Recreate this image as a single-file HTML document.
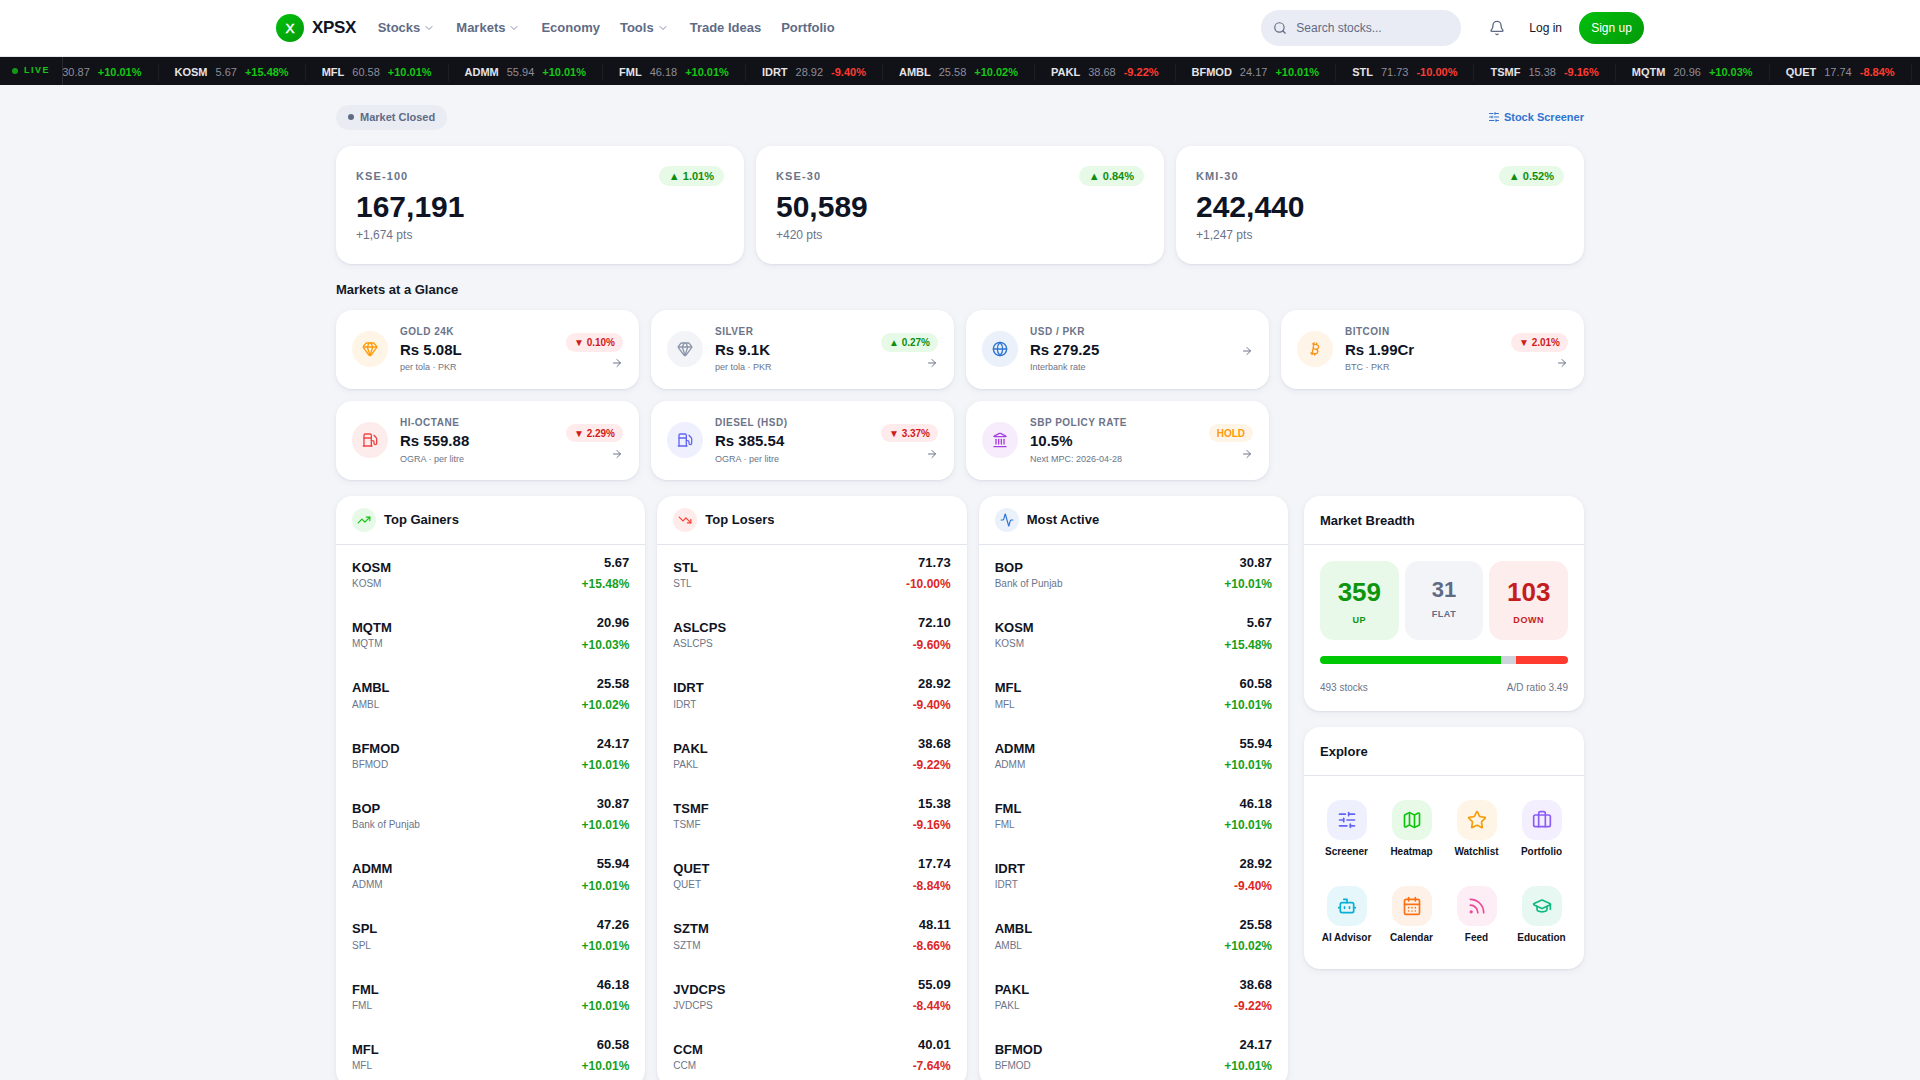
<!DOCTYPE html>
<html lang="en"><head><meta charset="utf-8"><title>XPSX</title>
<style>
*{box-sizing:border-box;margin:0;padding:0}
html,body{width:1920px;height:1080px;overflow:hidden}
body{font-family:"Liberation Sans",sans-serif;background:#f4f5f9;color:#0f1424;-webkit-font-smoothing:antialiased}
a{text-decoration:none;color:inherit}
svg{display:block;flex:none}
.hdr{height:57px;background:#fff;border-bottom:1px solid #e6e8ef}
.hdr-in{width:1368px;margin:0 auto;height:56px;display:flex;align-items:center}
.logo{display:flex;align-items:center;gap:8px}
.logo-c{width:28px;height:28px;border-radius:50%;background:linear-gradient(135deg,#02c20c,#04980a);color:#fff;font-weight:400;font-size:13.5px;-webkit-text-stroke:.45px #fff;display:flex;align-items:center;justify-content:center}
.logo-t{font-size:17px;font-weight:700;letter-spacing:-0.3px;color:#0f1424}
.navs{display:flex;margin-left:11.5px}
.nav{display:flex;align-items:center;font-size:13px;font-weight:700;color:#5f6b85;padding:0 10px;height:32px;position:relative;top:-1px}
.chev{margin-left:3px;margin-right:1px;opacity:.75;position:relative;top:1px}
.hdr-r{margin-left:auto;display:flex;align-items:center}
.search{width:200px;height:36px;border-radius:18px;background:#e9ecf4;display:flex;align-items:center;padding-left:12px;color:#5f6b85;font-size:12px;gap:9px}
.bell{margin-left:28px;color:#5f6b85}
.login{margin-left:24px;font-size:12px;color:#111827;position:relative;top:0px}
.signup{margin-left:17px;width:65px;height:32px;border-radius:16px;background:linear-gradient(135deg,#02c00c,#04990a);color:#fff;font-size:12px;display:flex;align-items:center;justify-content:center;padding-bottom:1px}
.ticker{height:28px;background:#111118;position:relative;overflow:hidden}
.live{position:absolute;left:0;top:0;height:28px;width:63px;background:#111118;border-right:1px solid #2a2a33;z-index:2;display:flex;align-items:center;padding-left:12px;font-size:9px;font-weight:700;letter-spacing:.17em;color:#19c519;gap:6px;padding-bottom:2px}
.ld{width:6px;height:6px;border-radius:50%;background:#159a15;position:relative;top:1px}
.track{position:absolute;left:14.4px;top:0;height:28px;display:flex;white-space:nowrap}
.ti{display:flex;align-items:center;gap:8px;padding:0 16px;border-right:1px solid #1e1e26;height:17px;margin-top:7px;font-size:11px;padding-bottom:2px}
.ti b{color:#e4e4e7;font-weight:700}
.ti i{font-style:normal;color:#8e8e98}
.ti em{font-style:normal;font-weight:700}
.ti .up{color:#14c814}.ti .dn{color:#ff3b30}
.wrap{width:1248px;margin:0 auto}
.topbar{display:flex;justify-content:space-between;align-items:center;height:25px;margin-top:20px}
.mc{height:25px;border-radius:13px;background:#eaecf4;padding:0 12px;display:flex;align-items:center;gap:6px;font-size:11px;font-weight:700;color:#5f6b85;padding-bottom:1px}
.mcd{width:6px;height:6px;border-radius:50%;background:#5f6b85}
.ss{display:flex;align-items:center;gap:4px;font-size:11px;font-weight:700;color:#2f74d0;position:relative;top:-1px}
.card{background:#fff;border-radius:16px;box-shadow:0 1px 2px rgba(20,30,70,.07),0 2px 8px rgba(20,30,70,.05)}
.idx{display:grid;grid-template-columns:repeat(3,1fr);gap:12px;margin-top:16px}
.ic{height:118px;padding:20px}
.ic-h{display:flex;justify-content:space-between;align-items:center;height:20px}
.ic-l{font-size:11px;font-weight:700;letter-spacing:.1em;color:#6b7489}
.pill{display:inline-flex;align-items:center;height:20px;border-radius:10px;padding:0 10px;font-size:11px;font-weight:700;white-space:nowrap}
.pu{background:#e7f9e7;color:#0d8f0d}
.pd{background:#ffebeb;color:#d11a1a}
.ph{background:#fff5e6;color:#ff9a08}
.ic-v{font-size:30px;font-weight:700;line-height:36px;margin-top:3px;color:#0f1424}
.ic-s{font-size:12px;color:#6b7489;line-height:16px;margin-top:2px}
.sec{font-size:13px;font-weight:700;color:#111827;margin-top:18px;line-height:16px}
.gl-grid{display:grid;grid-template-columns:repeat(4,1fr);gap:11.7px 12px;margin-top:12px}
.gc{height:79px;padding:0 16px;display:flex;align-items:flex-start}
.gi{margin-top:21px;width:36px;height:36px;border-radius:50%;display:flex;align-items:center;justify-content:center;flex:none}
.gt{margin-left:12px;flex:1;margin-top:15px}
.gl{font-size:10px;font-weight:700;letter-spacing:.05em;color:#6b7489;line-height:14px}
.gv{font-size:15px;font-weight:700;line-height:20px;margin-top:1px;color:#0f1424}
.gs{font-size:9px;color:#6b7489;line-height:12px;margin-top:1px}
.r2 .gs{margin-top:2px}
.gr{display:flex;flex-direction:column;align-items:flex-end;gap:5.5px;margin-top:23px}
.gr.nb{margin-top:34.7px}
.gr .pill{height:18.8px;padding:0 8px;font-size:10px}
.ga{color:#6b7489}
.cols{display:flex;gap:16px;margin-top:16.3px}
.main{width:952px}
.lists{display:grid;grid-template-columns:repeat(3,1fr);gap:12px}
.lc{overflow:hidden}
.lh{height:49px;border-bottom:1px solid #e3e5ee;display:flex;align-items:center;padding:0 16px;gap:8px}
.li{width:24px;height:24px;border-radius:50%;display:flex;align-items:center;justify-content:center}
.lt{font-size:13px;font-weight:700}
.row{height:60.25px;padding:0 16px;display:flex;justify-content:space-between;align-items:center}
.rn{font-size:13px;font-weight:700;line-height:17px;position:relative;top:-.25px}
.rs{font-size:10px;color:#6b7489;line-height:14px;margin-top:1px}
.rr{text-align:right;position:relative;top:-1.75px}
.rp{font-size:13px;font-weight:700;line-height:17px}
.rc{font-size:12px;font-weight:700;line-height:16px;margin-top:5.25px}
.up{color:#15a01a}.dn{color:#dc2626}
.side{width:280px}
.sc{margin-bottom:16px}
.sh{height:49px;border-bottom:1px solid #e3e5ee;padding:0 16px;display:flex;align-items:center;font-size:13px;font-weight:700;padding-top:2px}
.sb{padding:16px 16px 17px}
.bx3{display:grid;grid-template-columns:repeat(3,1fr);gap:6px}
.bx{aspect-ratio:1;border-radius:14px;display:flex;flex-direction:column;align-items:center;justify-content:center}
.bx b{font-size:26px;line-height:30px;position:relative;top:1px}
.bx span{font-size:9px;font-weight:700;letter-spacing:.06em;margin-top:8px;position:relative;top:1px}
.bu{background:#e9f9e9;color:#0d960d}
.bf{background:#f3f4f8;color:#5f6b85}
.bf b{font-size:22px;line-height:26px;top:-1px}
.bf span{top:-3px}
.bd{background:#feeded;color:#c41d1d}
.bar{height:8px;border-radius:4px;overflow:hidden;display:flex;margin-top:16px}
.b1{width:72.8%;background:#00c805}.b2{width:6.3%;background:#cfd3dc}.b3{flex:1;background:#ff3b30}
.bft{display:flex;justify-content:space-between;font-size:10px;color:#6b7489;margin-top:18px;line-height:12px}
.eg{display:grid;grid-template-columns:repeat(4,1fr);padding:24px 12px 0;gap:0 4px;height:193px}
.ei{display:flex;flex-direction:column;align-items:center;height:86px}
.eb{width:40px;height:40px;border-radius:14px;display:flex;align-items:center;justify-content:center}
.el{font-size:10px;font-weight:700;margin-top:6px;line-height:12px;white-space:nowrap}

</style></head>
<body><header class="hdr"><div class="hdr-in">
<a class="logo"><span class="logo-c">X</span><span class="logo-t">XPSX</span></a>
<nav class="navs"><a class="nav">Stocks<span class="chev"><svg width="12" height="12" viewBox="0 0 24 24" fill="none" stroke="currentColor" stroke-width="2" stroke-linecap="round" stroke-linejoin="round" ><path d="m6 9 6 6 6-6"/></svg></span></a><a class="nav">Markets<span class="chev"><svg width="12" height="12" viewBox="0 0 24 24" fill="none" stroke="currentColor" stroke-width="2" stroke-linecap="round" stroke-linejoin="round" ><path d="m6 9 6 6 6-6"/></svg></span></a><a class="nav">Economy</a><a class="nav">Tools<span class="chev"><svg width="12" height="12" viewBox="0 0 24 24" fill="none" stroke="currentColor" stroke-width="2" stroke-linecap="round" stroke-linejoin="round" ><path d="m6 9 6 6 6-6"/></svg></span></a><a class="nav">Trade Ideas</a><a class="nav">Portfolio</a></nav>
<div class="hdr-r"><div class="search"><svg width="14" height="14" viewBox="0 0 24 24" fill="none" stroke="currentColor" stroke-width="2" stroke-linecap="round" stroke-linejoin="round" ><path d="m21 21-4.34-4.34"/><circle cx="11" cy="11" r="8"/></svg><span>Search stocks...</span></div>
<span class="bell"><svg width="16" height="16" viewBox="0 0 24 24" fill="none" stroke="currentColor" stroke-width="2" stroke-linecap="round" stroke-linejoin="round" ><path d="M10.268 21a2 2 0 0 0 3.464 0"/><path d="M3.262 15.326A1 1 0 0 0 4 17h16a1 1 0 0 0 .74-1.673C19.41 13.956 18 12.499 18 8A6 6 0 0 0 6 8c0 4.499-1.411 5.956-2.738 7.326"/></svg></span><a class="login">Log in</a><a class="signup">Sign up</a></div>
</div></header><div class="ticker"><div class="live"><span class="ld"></span>LIVE</div><div class="track"><span class="ti"><b>BOP</b><i>30.87</i><em class="up">+10.01%</em></span><span class="ti"><b>KOSM</b><i>5.67</i><em class="up">+15.48%</em></span><span class="ti"><b>MFL</b><i>60.58</i><em class="up">+10.01%</em></span><span class="ti"><b>ADMM</b><i>55.94</i><em class="up">+10.01%</em></span><span class="ti"><b>FML</b><i>46.18</i><em class="up">+10.01%</em></span><span class="ti"><b>IDRT</b><i>28.92</i><em class="dn">-9.40%</em></span><span class="ti"><b>AMBL</b><i>25.58</i><em class="up">+10.02%</em></span><span class="ti"><b>PAKL</b><i>38.68</i><em class="dn">-9.22%</em></span><span class="ti"><b>BFMOD</b><i>24.17</i><em class="up">+10.01%</em></span><span class="ti"><b>STL</b><i>71.73</i><em class="dn">-10.00%</em></span><span class="ti"><b>TSMF</b><i>15.38</i><em class="dn">-9.16%</em></span><span class="ti"><b>MQTM</b><i>20.96</i><em class="up">+10.03%</em></span><span class="ti"><b>QUET</b><i>17.74</i><em class="dn">-8.84%</em></span><span class="ti"><b>SPL</b><i>47.26</i><em class="up">+10.01%</em></span></div></div><main class="wrap"><div class="topbar"><span class="mc"><span class="mcd"></span>Market Closed</span><a class="ss"><svg width="12" height="12" viewBox="0 0 24 24" fill="none" stroke="currentColor" stroke-width="2" stroke-linecap="round" stroke-linejoin="round" ><path d="M10 5H3"/><path d="M12 19H3"/><path d="M14 3v4"/><path d="M16 17v4"/><path d="M21 12h-9"/><path d="M21 19h-5"/><path d="M21 5h-7"/><path d="M8 10v4"/><path d="M8 12H3"/></svg>Stock Screener</a></div><div class="idx"><div class="card ic"><div class="ic-h"><span class="ic-l">KSE-100</span><span class="pill pu">▲ 1.01%</span></div><div class="ic-v">167,191</div><div class="ic-s">+1,674 pts</div></div><div class="card ic"><div class="ic-h"><span class="ic-l">KSE-30</span><span class="pill pu">▲ 0.84%</span></div><div class="ic-v">50,589</div><div class="ic-s">+420 pts</div></div><div class="card ic"><div class="ic-h"><span class="ic-l">KMI-30</span><span class="pill pu">▲ 0.52%</span></div><div class="ic-v">242,440</div><div class="ic-s">+1,247 pts</div></div></div><h2 class="sec">Markets at a Glance</h2><div class="gl-grid"><div class="card gc"><span class="gi" style="color:#ff9a08;background:#fff5e6"><svg width="16" height="16" viewBox="0 0 24 24" fill="none" stroke="currentColor" stroke-width="2" stroke-linecap="round" stroke-linejoin="round" ><path d="M10.5 3 8 9l4 13 4-13-2.5-6"/><path d="M17 3a2 2 0 0 1 1.6.8l3 4a2 2 0 0 1 .013 2.382l-7.99 10.986a2 2 0 0 1-3.247 0l-7.99-10.986A2 2 0 0 1 2.4 7.8l2.998-3.997A2 2 0 0 1 7 3z"/><path d="M2 9h20"/></svg></span><div class="gt"><div class="gl">GOLD 24K</div><div class="gv">Rs 5.08L</div><div class="gs">per tola · PKR</div></div><div class="gr"><span class="pill pd">▼ 0.10%</span><span class="ga"><svg width="12" height="12" viewBox="0 0 24 24" fill="none" stroke="currentColor" stroke-width="2" stroke-linecap="round" stroke-linejoin="round" ><path d="M5 12h14"/><path d="m12 5 7 7-7 7"/></svg></span></div></div><div class="card gc"><span class="gi" style="color:#8b95ab;background:#f3f4f7"><svg width="16" height="16" viewBox="0 0 24 24" fill="none" stroke="currentColor" stroke-width="2" stroke-linecap="round" stroke-linejoin="round" ><path d="M10.5 3 8 9l4 13 4-13-2.5-6"/><path d="M17 3a2 2 0 0 1 1.6.8l3 4a2 2 0 0 1 .013 2.382l-7.99 10.986a2 2 0 0 1-3.247 0l-7.99-10.986A2 2 0 0 1 2.4 7.8l2.998-3.997A2 2 0 0 1 7 3z"/><path d="M2 9h20"/></svg></span><div class="gt"><div class="gl">SILVER</div><div class="gv">Rs 9.1K</div><div class="gs">per tola · PKR</div></div><div class="gr"><span class="pill pu">▲ 0.27%</span><span class="ga"><svg width="12" height="12" viewBox="0 0 24 24" fill="none" stroke="currentColor" stroke-width="2" stroke-linecap="round" stroke-linejoin="round" ><path d="M5 12h14"/><path d="m12 5 7 7-7 7"/></svg></span></div></div><div class="card gc"><span class="gi" style="color:#2f74d0;background:#eaf1fa"><svg width="16" height="16" viewBox="0 0 24 24" fill="none" stroke="currentColor" stroke-width="2" stroke-linecap="round" stroke-linejoin="round" ><circle cx="12" cy="12" r="10"/><path d="M12 2a14.5 14.5 0 0 0 0 20 14.5 14.5 0 0 0 0-20"/><path d="M2 12h20"/></svg></span><div class="gt"><div class="gl">USD / PKR</div><div class="gv">Rs 279.25</div><div class="gs">Interbank rate</div></div><div class="gr nb"><span class="ga"><svg width="12" height="12" viewBox="0 0 24 24" fill="none" stroke="currentColor" stroke-width="2" stroke-linecap="round" stroke-linejoin="round" ><path d="M5 12h14"/><path d="m12 5 7 7-7 7"/></svg></span></div></div><div class="card gc"><span class="gi" style="color:#f7931a;background:#fef4e8"><svg width="16" height="16" viewBox="0 0 24 24" fill="none" stroke="currentColor" stroke-width="2" stroke-linecap="round" stroke-linejoin="round" ><path d="M11.767 19.089c4.924.868 6.14-6.025 1.216-6.894m-1.216 6.894L5.86 18.047m5.908 1.042-.347 1.97m1.563-8.864c4.924.869 6.14-6.025 1.215-6.893m-1.215 6.893-3.94-.694m5.155-6.2L8.29 4.26m5.908 1.042.348-1.97M7.48 20.364l3.126-17.727"/></svg></span><div class="gt"><div class="gl">BITCOIN</div><div class="gv">Rs 1.99Cr</div><div class="gs">BTC · PKR</div></div><div class="gr"><span class="pill pd">▼ 2.01%</span><span class="ga"><svg width="12" height="12" viewBox="0 0 24 24" fill="none" stroke="currentColor" stroke-width="2" stroke-linecap="round" stroke-linejoin="round" ><path d="M5 12h14"/><path d="m12 5 7 7-7 7"/></svg></span></div></div><div class="card gc r2"><span class="gi" style="color:#ef4444;background:#fdecec"><svg width="16" height="16" viewBox="0 0 24 24" fill="none" stroke="currentColor" stroke-width="2" stroke-linecap="round" stroke-linejoin="round" ><path d="M14 13h2a2 2 0 0 1 2 2v2a2 2 0 0 0 4 0v-6.998a2 2 0 0 0-.59-1.42L18 5"/><path d="M14 21V5a2 2 0 0 0-2-2H5a2 2 0 0 0-2 2v16"/><path d="M2 21h13"/><path d="M3 9h11"/></svg></span><div class="gt"><div class="gl">HI-OCTANE</div><div class="gv">Rs 559.88</div><div class="gs">OGRA · per litre</div></div><div class="gr"><span class="pill pd">▼ 2.29%</span><span class="ga"><svg width="12" height="12" viewBox="0 0 24 24" fill="none" stroke="currentColor" stroke-width="2" stroke-linecap="round" stroke-linejoin="round" ><path d="M5 12h14"/><path d="m12 5 7 7-7 7"/></svg></span></div></div><div class="card gc r2"><span class="gi" style="color:#6366f1;background:#eff0fe"><svg width="16" height="16" viewBox="0 0 24 24" fill="none" stroke="currentColor" stroke-width="2" stroke-linecap="round" stroke-linejoin="round" ><path d="M14 13h2a2 2 0 0 1 2 2v2a2 2 0 0 0 4 0v-6.998a2 2 0 0 0-.59-1.42L18 5"/><path d="M14 21V5a2 2 0 0 0-2-2H5a2 2 0 0 0-2 2v16"/><path d="M2 21h13"/><path d="M3 9h11"/></svg></span><div class="gt"><div class="gl">DIESEL (HSD)</div><div class="gv">Rs 385.54</div><div class="gs">OGRA · per litre</div></div><div class="gr"><span class="pill pd">▼ 3.37%</span><span class="ga"><svg width="12" height="12" viewBox="0 0 24 24" fill="none" stroke="currentColor" stroke-width="2" stroke-linecap="round" stroke-linejoin="round" ><path d="M5 12h14"/><path d="m12 5 7 7-7 7"/></svg></span></div></div><div class="card gc r2"><span class="gi" style="color:#a63fe0;background:#f6ecfc"><svg width="16" height="16" viewBox="0 0 24 24" fill="none" stroke="currentColor" stroke-width="2" stroke-linecap="round" stroke-linejoin="round" ><path d="M10 18v-7"/><path d="M11.12 2.198a2 2 0 0 1 1.76.006l7.866 3.847c.476.233.31.949-.22.949H3.474c-.53 0-.695-.716-.22-.949z"/><path d="M14 18v-7"/><path d="M18 18v-7"/><path d="M3 22h18"/><path d="M6 18v-7"/></svg></span><div class="gt"><div class="gl">SBP POLICY RATE</div><div class="gv">10.5%</div><div class="gs">Next MPC: 2026-04-28</div></div><div class="gr"><span class="pill ph">HOLD</span><span class="ga"><svg width="12" height="12" viewBox="0 0 24 24" fill="none" stroke="currentColor" stroke-width="2" stroke-linecap="round" stroke-linejoin="round" ><path d="M5 12h14"/><path d="m12 5 7 7-7 7"/></svg></span></div></div></div><div class="cols"><div class="main"><div class="lists"><div class="card lc"><div class="lh"><span class="li" style="color:#0cc40c;background:#e7f9e7"><svg width="14" height="14" viewBox="0 0 24 24" fill="none" stroke="currentColor" stroke-width="2" stroke-linecap="round" stroke-linejoin="round" ><polyline points="22 7 13.5 15.5 8.5 10.5 2 17"/><polyline points="16 7 22 7 22 13"/></svg></span><span class="lt">Top Gainers</span></div><div class="rows"><div class="row"><div class="rl"><div class="rn">KOSM</div><div class="rs">KOSM</div></div><div class="rr"><div class="rp">5.67</div><div class="rc up">+15.48%</div></div></div><div class="row"><div class="rl"><div class="rn">MQTM</div><div class="rs">MQTM</div></div><div class="rr"><div class="rp">20.96</div><div class="rc up">+10.03%</div></div></div><div class="row"><div class="rl"><div class="rn">AMBL</div><div class="rs">AMBL</div></div><div class="rr"><div class="rp">25.58</div><div class="rc up">+10.02%</div></div></div><div class="row"><div class="rl"><div class="rn">BFMOD</div><div class="rs">BFMOD</div></div><div class="rr"><div class="rp">24.17</div><div class="rc up">+10.01%</div></div></div><div class="row"><div class="rl"><div class="rn">BOP</div><div class="rs">Bank of Punjab</div></div><div class="rr"><div class="rp">30.87</div><div class="rc up">+10.01%</div></div></div><div class="row"><div class="rl"><div class="rn">ADMM</div><div class="rs">ADMM</div></div><div class="rr"><div class="rp">55.94</div><div class="rc up">+10.01%</div></div></div><div class="row"><div class="rl"><div class="rn">SPL</div><div class="rs">SPL</div></div><div class="rr"><div class="rp">47.26</div><div class="rc up">+10.01%</div></div></div><div class="row"><div class="rl"><div class="rn">FML</div><div class="rs">FML</div></div><div class="rr"><div class="rp">46.18</div><div class="rc up">+10.01%</div></div></div><div class="row"><div class="rl"><div class="rn">MFL</div><div class="rs">MFL</div></div><div class="rr"><div class="rp">60.58</div><div class="rc up">+10.01%</div></div></div></div></div><div class="card lc"><div class="lh"><span class="li" style="color:#ff3b30;background:#ffebea"><svg width="14" height="14" viewBox="0 0 24 24" fill="none" stroke="currentColor" stroke-width="2" stroke-linecap="round" stroke-linejoin="round" ><polyline points="22 17 13.5 8.5 8.5 13.5 2 7"/><polyline points="16 17 22 17 22 11"/></svg></span><span class="lt">Top Losers</span></div><div class="rows"><div class="row"><div class="rl"><div class="rn">STL</div><div class="rs">STL</div></div><div class="rr"><div class="rp">71.73</div><div class="rc dn">-10.00%</div></div></div><div class="row"><div class="rl"><div class="rn">ASLCPS</div><div class="rs">ASLCPS</div></div><div class="rr"><div class="rp">72.10</div><div class="rc dn">-9.60%</div></div></div><div class="row"><div class="rl"><div class="rn">IDRT</div><div class="rs">IDRT</div></div><div class="rr"><div class="rp">28.92</div><div class="rc dn">-9.40%</div></div></div><div class="row"><div class="rl"><div class="rn">PAKL</div><div class="rs">PAKL</div></div><div class="rr"><div class="rp">38.68</div><div class="rc dn">-9.22%</div></div></div><div class="row"><div class="rl"><div class="rn">TSMF</div><div class="rs">TSMF</div></div><div class="rr"><div class="rp">15.38</div><div class="rc dn">-9.16%</div></div></div><div class="row"><div class="rl"><div class="rn">QUET</div><div class="rs">QUET</div></div><div class="rr"><div class="rp">17.74</div><div class="rc dn">-8.84%</div></div></div><div class="row"><div class="rl"><div class="rn">SZTM</div><div class="rs">SZTM</div></div><div class="rr"><div class="rp">48.11</div><div class="rc dn">-8.66%</div></div></div><div class="row"><div class="rl"><div class="rn">JVDCPS</div><div class="rs">JVDCPS</div></div><div class="rr"><div class="rp">55.09</div><div class="rc dn">-8.44%</div></div></div><div class="row"><div class="rl"><div class="rn">CCM</div><div class="rs">CCM</div></div><div class="rr"><div class="rp">40.01</div><div class="rc dn">-7.64%</div></div></div></div></div><div class="card lc"><div class="lh"><span class="li" style="color:#2f74d0;background:#eaf1fa"><svg width="14" height="14" viewBox="0 0 24 24" fill="none" stroke="currentColor" stroke-width="2" stroke-linecap="round" stroke-linejoin="round" ><path d="M22 12h-2.48a2 2 0 0 0-1.93 1.46l-2.35 8.36a.25.25 0 0 1-.48 0L9.24 2.18a.25.25 0 0 0-.48 0l-2.35 8.36A2 2 0 0 1 4.49 12H2"/></svg></span><span class="lt">Most Active</span></div><div class="rows"><div class="row"><div class="rl"><div class="rn">BOP</div><div class="rs">Bank of Punjab</div></div><div class="rr"><div class="rp">30.87</div><div class="rc up">+10.01%</div></div></div><div class="row"><div class="rl"><div class="rn">KOSM</div><div class="rs">KOSM</div></div><div class="rr"><div class="rp">5.67</div><div class="rc up">+15.48%</div></div></div><div class="row"><div class="rl"><div class="rn">MFL</div><div class="rs">MFL</div></div><div class="rr"><div class="rp">60.58</div><div class="rc up">+10.01%</div></div></div><div class="row"><div class="rl"><div class="rn">ADMM</div><div class="rs">ADMM</div></div><div class="rr"><div class="rp">55.94</div><div class="rc up">+10.01%</div></div></div><div class="row"><div class="rl"><div class="rn">FML</div><div class="rs">FML</div></div><div class="rr"><div class="rp">46.18</div><div class="rc up">+10.01%</div></div></div><div class="row"><div class="rl"><div class="rn">IDRT</div><div class="rs">IDRT</div></div><div class="rr"><div class="rp">28.92</div><div class="rc dn">-9.40%</div></div></div><div class="row"><div class="rl"><div class="rn">AMBL</div><div class="rs">AMBL</div></div><div class="rr"><div class="rp">25.58</div><div class="rc up">+10.02%</div></div></div><div class="row"><div class="rl"><div class="rn">PAKL</div><div class="rs">PAKL</div></div><div class="rr"><div class="rp">38.68</div><div class="rc dn">-9.22%</div></div></div><div class="row"><div class="rl"><div class="rn">BFMOD</div><div class="rs">BFMOD</div></div><div class="rr"><div class="rp">24.17</div><div class="rc up">+10.01%</div></div></div></div></div></div></div><aside class="side"><div class="card sc"><div class="sh">Market Breadth</div><div class="sb">
<div class="bx3"><div class="bx bu"><b>359</b><span>UP</span></div><div class="bx bf"><b>31</b><span>FLAT</span></div><div class="bx bd"><b>103</b><span>DOWN</span></div></div>
<div class="bar"><i class="b1"></i><i class="b2"></i><i class="b3"></i></div>
<div class="bft"><span>493 stocks</span><span>A/D ratio 3.49</span></div></div></div><div class="card sc ex"><div class="sh">Explore</div><div class="eg"><a class="ei"><span class="eb" style="color:#6366f1;background:#eff0fe"><svg width="20" height="20" viewBox="0 0 24 24" fill="none" stroke="currentColor" stroke-width="2" stroke-linecap="round" stroke-linejoin="round" ><path d="M10 5H3"/><path d="M12 19H3"/><path d="M14 3v4"/><path d="M16 17v4"/><path d="M21 12h-9"/><path d="M21 19h-5"/><path d="M21 5h-7"/><path d="M8 10v4"/><path d="M8 12H3"/></svg></span><span class="el">Screener</span></a><a class="ei"><span class="eb" style="color:#0cc40c;background:#e7f9e7"><svg width="20" height="20" viewBox="0 0 24 24" fill="none" stroke="currentColor" stroke-width="2" stroke-linecap="round" stroke-linejoin="round" ><path d="M14.106 5.553a2 2 0 0 0 1.788 0l3.659-1.83A1 1 0 0 1 21 4.619v12.764a1 1 0 0 1-.553.894l-4.553 2.277a2 2 0 0 1-1.788 0l-4.212-2.106a2 2 0 0 0-1.788 0l-3.659 1.83A1 1 0 0 1 3 19.381V6.618a1 1 0 0 1 .553-.894l4.553-2.277a2 2 0 0 1 1.788 0z"/><path d="M15 5.764v15"/><path d="M9 3.236v15"/></svg></span><span class="el">Heatmap</span></a><a class="ei"><span class="eb" style="color:#f59e0b;background:#fef5e7"><svg width="20" height="20" viewBox="0 0 24 24" fill="none" stroke="currentColor" stroke-width="2" stroke-linecap="round" stroke-linejoin="round" ><path d="M11.525 2.295a.53.53 0 0 1 .95 0l2.31 4.679a2.123 2.123 0 0 0 1.595 1.16l5.166.756a.53.53 0 0 1 .294.904l-3.736 3.638a2.123 2.123 0 0 0-.611 1.878l.882 5.14a.53.53 0 0 1-.771.56l-4.618-2.428a2.122 2.122 0 0 0-1.973 0L6.396 21.01a.53.53 0 0 1-.77-.56l.881-5.139a2.122 2.122 0 0 0-.611-1.879L2.16 9.795a.53.53 0 0 1 .294-.906l5.165-.755a2.122 2.122 0 0 0 1.597-1.16z"/></svg></span><span class="el">Watchlist</span></a><a class="ei"><span class="eb" style="color:#8b5cf6;background:#f3effe"><svg width="20" height="20" viewBox="0 0 24 24" fill="none" stroke="currentColor" stroke-width="2" stroke-linecap="round" stroke-linejoin="round" ><path d="M16 20V4a2 2 0 0 0-2-2h-4a2 2 0 0 0-2 2v16"/><rect width="20" height="14" x="2" y="6" rx="2"/></svg></span><span class="el">Portfolio</span></a><a class="ei"><span class="eb" style="color:#06b0d4;background:#e6f7fb"><svg width="20" height="20" viewBox="0 0 24 24" fill="none" stroke="currentColor" stroke-width="2" stroke-linecap="round" stroke-linejoin="round" ><path d="M12 8V4H8"/><rect x="4" y="8" width="16" height="12" rx="2"/><path d="M2 14h2M20 14h2M15 13v2M9 13v2"/></svg></span><span class="el">AI Advisor</span></a><a class="ei"><span class="eb" style="color:#f97316;background:#fef1e8"><svg width="20" height="20" viewBox="0 0 24 24" fill="none" stroke="currentColor" stroke-width="2" stroke-linecap="round" stroke-linejoin="round" ><path d="M8 2v4M16 2v4"/><rect x="3" y="4" width="18" height="18" rx="2"/><path d="M3 10h18M8 14h.01M12 14h.01M16 14h.01M8 18h.01M12 18h.01M16 18h.01"/></svg></span><span class="el">Calendar</span></a><a class="ei"><span class="eb" style="color:#ec4899;background:#fdedf5"><svg width="20" height="20" viewBox="0 0 24 24" fill="none" stroke="currentColor" stroke-width="2" stroke-linecap="round" stroke-linejoin="round" ><path d="M4 11a9 9 0 0 1 9 9"/><path d="M4 4a16 16 0 0 1 16 16"/><circle cx="5" cy="19" r="1"/></svg></span><span class="el">Feed</span></a><a class="ei"><span class="eb" style="color:#10b981;background:#e7f8f2"><svg width="20" height="20" viewBox="0 0 24 24" fill="none" stroke="currentColor" stroke-width="2" stroke-linecap="round" stroke-linejoin="round" ><path d="M21.42 10.922a1 1 0 0 0-.019-1.838L12.83 5.18a2 2 0 0 0-1.66 0L2.6 9.08a1 1 0 0 0 0 1.832l8.57 3.908a2 2 0 0 0 1.66 0z"/><path d="M22 10v6"/><path d="M6 12.5V16a6 3 0 0 0 12 0v-3.5"/></svg></span><span class="el">Education</span></a></div></div></aside></div></main></body></html>
